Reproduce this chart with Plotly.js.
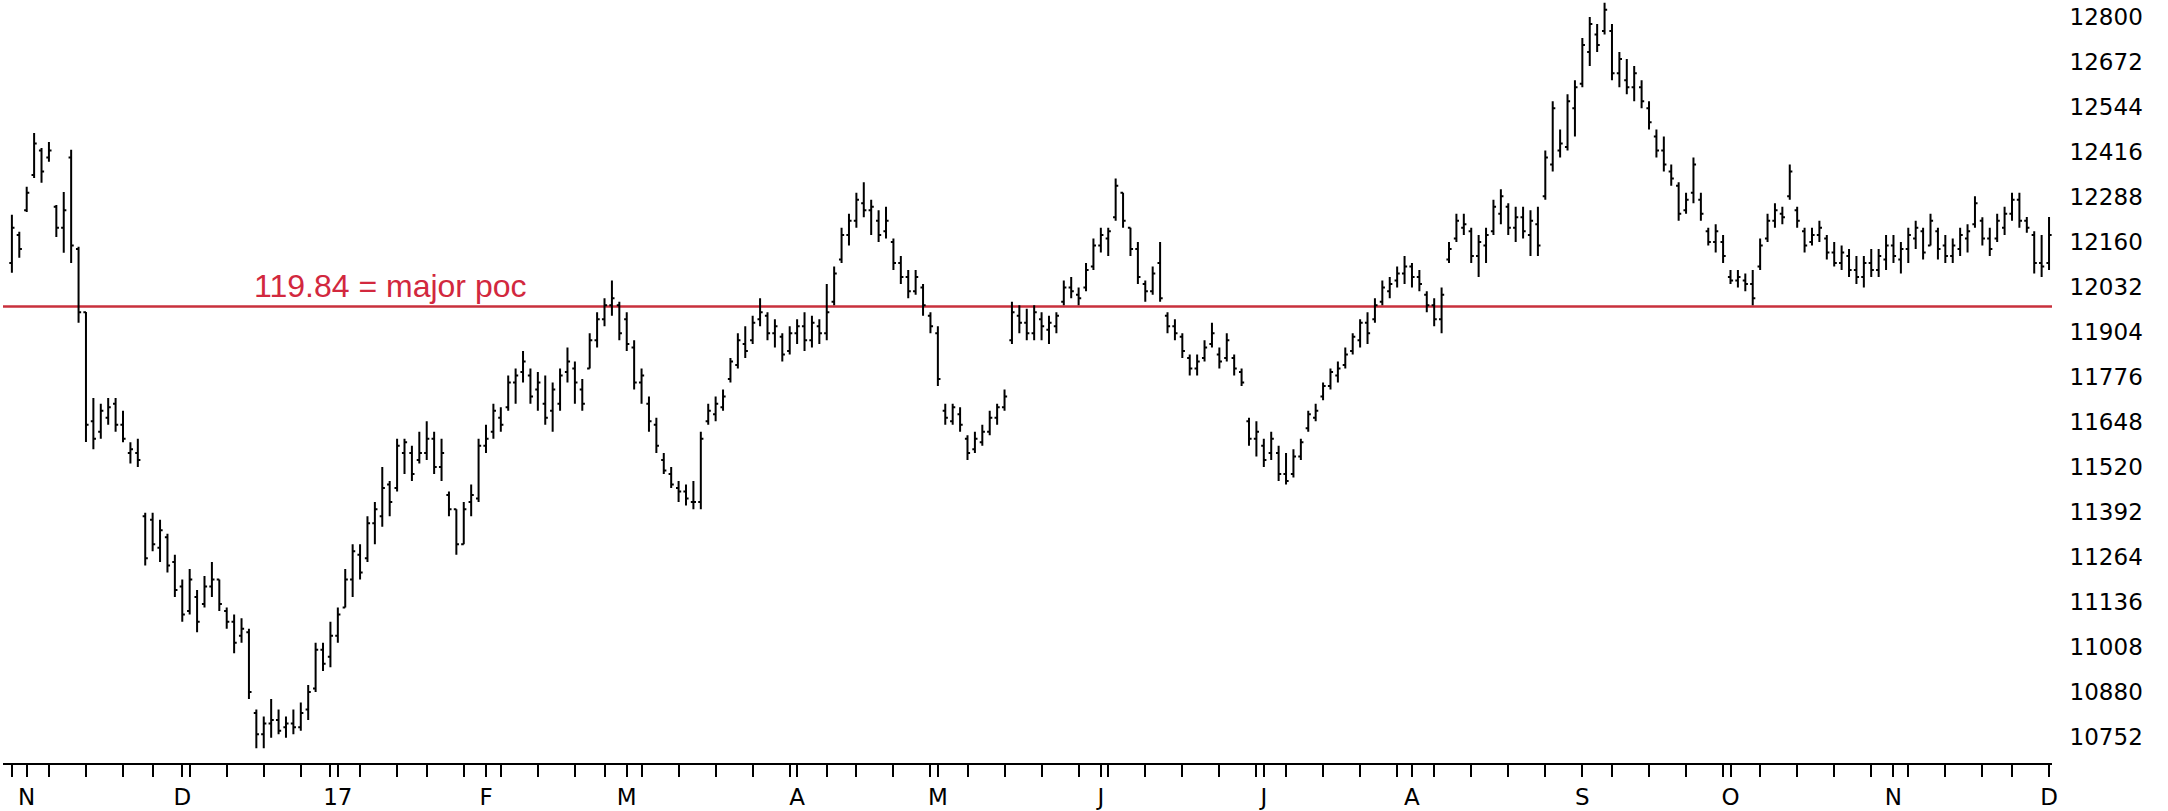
<!DOCTYPE html>
<html><head><meta charset="utf-8">
<script src="https://cdn.plot.ly/plotly-3.0.1.min.js"></script>
<style>html,body{margin:0;padding:0;background:#fff}#chart{width:2168px;height:811px}</style>
</head><body><div id="chart"></div>
<script>
const dates = [
"2016-10-28","2016-10-31",
"2016-11-01","2016-11-02","2016-11-03","2016-11-04","2016-11-07","2016-11-08","2016-11-09","2016-11-10","2016-11-11","2016-11-14","2016-11-15","2016-11-16","2016-11-17","2016-11-18","2016-11-21","2016-11-22","2016-11-23","2016-11-25","2016-11-28","2016-11-29","2016-11-30",
"2016-12-01","2016-12-02","2016-12-05","2016-12-06","2016-12-07","2016-12-08","2016-12-09","2016-12-12","2016-12-13","2016-12-14","2016-12-15","2016-12-16","2016-12-19","2016-12-20","2016-12-21","2016-12-22","2016-12-23","2016-12-27","2016-12-28","2016-12-29","2016-12-30",
"2017-01-03","2017-01-04","2017-01-05","2017-01-06","2017-01-09","2017-01-10","2017-01-11","2017-01-12","2017-01-13","2017-01-17","2017-01-18","2017-01-19","2017-01-20","2017-01-23","2017-01-24","2017-01-25","2017-01-26","2017-01-27","2017-01-30","2017-01-31",
"2017-02-01","2017-02-02","2017-02-03","2017-02-06","2017-02-07","2017-02-08","2017-02-09","2017-02-10","2017-02-13","2017-02-14","2017-02-15","2017-02-16","2017-02-17","2017-02-21","2017-02-22","2017-02-23","2017-02-24","2017-02-27","2017-02-28",
"2017-03-01","2017-03-02","2017-03-03","2017-03-06","2017-03-07","2017-03-08","2017-03-09","2017-03-10","2017-03-13","2017-03-14","2017-03-15","2017-03-16","2017-03-17","2017-03-20","2017-03-21","2017-03-22","2017-03-23","2017-03-24","2017-03-27","2017-03-28","2017-03-29","2017-03-30","2017-03-31",
"2017-04-03","2017-04-04","2017-04-05","2017-04-06","2017-04-07","2017-04-10","2017-04-11","2017-04-12","2017-04-13","2017-04-17","2017-04-18","2017-04-19","2017-04-20","2017-04-21","2017-04-24","2017-04-25","2017-04-26","2017-04-27","2017-04-28",
"2017-05-01","2017-05-02","2017-05-03","2017-05-04","2017-05-05","2017-05-08","2017-05-09","2017-05-10","2017-05-11","2017-05-12","2017-05-15","2017-05-16","2017-05-17","2017-05-18","2017-05-19","2017-05-22","2017-05-23","2017-05-24","2017-05-25","2017-05-26","2017-05-30","2017-05-31",
"2017-06-01","2017-06-02","2017-06-05","2017-06-06","2017-06-07","2017-06-08","2017-06-09","2017-06-12","2017-06-13","2017-06-14","2017-06-15","2017-06-16","2017-06-19","2017-06-20","2017-06-21","2017-06-22","2017-06-23","2017-06-26","2017-06-27","2017-06-28","2017-06-29","2017-06-30",
"2017-07-03","2017-07-05","2017-07-06","2017-07-07","2017-07-10","2017-07-11","2017-07-12","2017-07-13","2017-07-14","2017-07-17","2017-07-18","2017-07-19","2017-07-20","2017-07-21","2017-07-24","2017-07-25","2017-07-26","2017-07-27","2017-07-28","2017-07-31",
"2017-08-01","2017-08-02","2017-08-03","2017-08-04","2017-08-07","2017-08-08","2017-08-09","2017-08-10","2017-08-11","2017-08-14","2017-08-15","2017-08-16","2017-08-17","2017-08-18","2017-08-21","2017-08-22","2017-08-23","2017-08-24","2017-08-25","2017-08-28","2017-08-29","2017-08-30","2017-08-31",
"2017-09-01","2017-09-05","2017-09-06","2017-09-07","2017-09-08","2017-09-11","2017-09-12","2017-09-13","2017-09-14","2017-09-15","2017-09-18","2017-09-19","2017-09-20","2017-09-21","2017-09-22","2017-09-25","2017-09-26","2017-09-27","2017-09-28","2017-09-29",
"2017-10-02","2017-10-03","2017-10-04","2017-10-05","2017-10-06","2017-10-09","2017-10-10","2017-10-11","2017-10-12","2017-10-13","2017-10-16","2017-10-17","2017-10-18","2017-10-19","2017-10-20","2017-10-23","2017-10-24","2017-10-25","2017-10-26","2017-10-27","2017-10-30","2017-10-31",
"2017-11-01","2017-11-02","2017-11-03","2017-11-06","2017-11-07","2017-11-08","2017-11-09","2017-11-10","2017-11-13","2017-11-14","2017-11-15","2017-11-16","2017-11-17","2017-11-20","2017-11-21","2017-11-22","2017-11-24","2017-11-27","2017-11-28","2017-11-29","2017-11-30",
"2017-12-01"
];
const holidays = ["2016-11-24","2016-12-26","2017-01-02","2017-01-16","2017-02-20","2017-04-14","2017-05-29","2017-07-04","2017-09-04","2017-11-23"];

const open = [
12100,12180,12250,12350,12420,12400,12260,12200,12400,12140,
11960,11650,11620,11660,11700,11640,11560,11560,11380,11370,
11290,11320,11250,11180,11110,11150,11130,11180,11200,11110,
11080,11040,11050,10820,10760,10790,10800,10780,10790,10780,
10830,10890,11000,10980,11040,11120,11200,11270,11260,11360,
11380,11470,11460,11560,11560,11540,11560,11600,11520,11440,
11400,11300,11420,11430,11580,11620,11660,11690,11760,11790,
11780,11740,11700,11680,11700,11790,11800,11740,11800,11880,
11940,11980,11980,11940,11860,11760,11700,11640,11540,11500,
11460,11450,11420,11420,11650,11670,11690,11770,11810,11870,
11880,11940,11950,11900,11890,11850,11900,11920,11880,11920,
11900,11990,12110,12180,12220,12270,12250,12220,12190,12160,
12100,12060,12020,12030,11950,11900,11680,11650,11670,11600,
11570,11590,11620,11660,11690,11880,11950,11930,11900,11940,
11910,11920,11990,12030,12010,12030,12090,12150,12170,12230,
12300,12200,12140,12040,12020,12100,11950,11920,11890,11830,
11800,11830,11870,11840,11830,11830,11790,11650,11600,11580,
11560,11560,11500,11500,11550,11630,11660,11720,11750,11780,
11810,11850,11880,11930,11940,11990,12020,12050,12070,12090,
12060,12010,11980,11940,12110,12170,12200,12190,12120,12150,
12190,12240,12260,12200,12230,12180,12210,12290,12380,12420,
12430,12540,12610,12700,12750,12760,12760,12640,12620,12600,
12600,12540,12460,12420,12360,12320,12250,12300,12280,12190,
12160,12160,12060,12050,12050,12040,12090,12170,12220,12240,
12290,12250,12190,12160,12180,12170,12130,12100,12120,12080,
12060,12100,12080,12110,12150,12110,12140,12170,12190,12150,
12190,12150,12120,12140,12170,12210,12220,12170,12170,12200,
12240,12280,12220,12180,12100,12100
];
const high = [
12237,12189,12317,12470,12427,12444,12265,12302,12422,12146,
11961,11716,11700,11716,11716,11680,11590,11600,11390,11390,
11370,11330,11270,11200,11230,11170,11210,11250,11200,11120,
11100,11090,11060,10830,10810,10860,10830,10810,10830,10850,
10900,11020,11020,11080,11120,11230,11300,11300,11380,11420,
11520,11480,11600,11600,11580,11620,11650,11620,11600,11450,
11400,11420,11470,11600,11640,11700,11690,11780,11800,11850,
11800,11790,11780,11760,11800,11860,11820,11770,11900,11960,
12000,12050,11990,11960,11880,11800,11720,11660,11560,11520,
11480,11470,11480,11620,11700,11720,11740,11830,11900,11920,
11950,12000,11960,11940,11900,11920,11940,11960,11950,11940,
12040,12090,12200,12240,12300,12330,12280,12250,12260,12170,
12120,12080,12080,12040,11960,11920,11700,11700,11690,11610,
11620,11640,11680,11700,11740,11990,11980,11970,11980,11960,
11950,11960,12050,12060,12030,12100,12170,12200,12200,12340,
12300,12200,12160,12050,12090,12160,11960,11940,11900,11840,
11840,11880,11930,11860,11900,11840,11800,11660,11650,11600,
11620,11580,11560,11570,11600,11680,11700,11760,11800,11820,
11860,11900,11940,11960,12000,12050,12060,12090,12120,12100,
12080,12020,12000,12030,12160,12240,12240,12200,12180,12200,
12280,12310,12270,12260,12260,12250,12260,12420,12560,12480,
12580,12620,12740,12800,12780,12840,12780,12700,12680,12660,
12620,12560,12480,12460,12380,12330,12300,12400,12300,12200,
12210,12180,12080,12080,12070,12080,12170,12240,12270,12260,
12380,12260,12200,12200,12220,12180,12160,12150,12140,12120,
12120,12140,12140,12180,12180,12160,12200,12220,12200,12240,
12200,12180,12170,12200,12210,12290,12230,12200,12240,12260,
12300,12300,12231,12190,12180,12231
];
const low = [
12072,12115,12245,12342,12328,12388,12174,12129,12100,11930,
11591,11570,11600,11640,11620,11590,11530,11520,11240,11280,
11250,11220,11150,11080,11100,11050,11120,11150,11110,11060,
10990,11020,10860,10720,10720,10750,10760,10750,10760,10770,
10800,10880,10940,10950,11020,11120,11150,11200,11250,11300,
11350,11380,11450,11500,11480,11530,11540,11500,11480,11380,
11270,11300,11380,11420,11560,11600,11620,11680,11700,11760,
11700,11680,11640,11620,11680,11760,11700,11680,11800,11860,
11920,11950,11880,11850,11740,11700,11620,11560,11500,11460,
11420,11410,11400,11400,11640,11650,11680,11760,11800,11830,
11870,11920,11880,11860,11820,11840,11870,11850,11860,11870,
11880,11980,12100,12150,12200,12230,12180,12160,12170,12080,
12040,12000,12010,11950,11900,11750,11640,11640,11620,11540,
11560,11580,11610,11640,11680,11870,11900,11880,11880,11880,
11870,11900,11980,12000,11980,12020,12080,12130,12120,12220,
12200,12120,12040,11990,12010,11990,11900,11880,11830,11780,
11780,11820,11860,11800,11820,11780,11750,11580,11550,11520,
11540,11480,11470,11490,11540,11620,11650,11710,11740,11760,
11800,11840,11860,11870,11930,11980,12000,12030,12040,12030,
12020,11960,11920,11900,12100,12160,12180,12100,12060,12100,
12180,12210,12180,12160,12170,12120,12120,12280,12360,12400,
12420,12460,12600,12660,12700,12750,12620,12600,12580,12560,
12540,12480,12400,12360,12320,12220,12240,12270,12220,12150,
12130,12100,12040,12030,12020,11980,12080,12160,12200,12210,
12280,12200,12130,12150,12160,12110,12090,12080,12060,12040,
12030,12060,12060,12080,12100,12070,12100,12140,12110,12150,
12110,12100,12100,12120,12130,12200,12150,12120,12160,12180,
12220,12200,12186,12070,12060,12080
];
const close = [
12200,12140,12300,12440,12360,12420,12200,12250,12150,11960,
11640,11600,11680,11690,11640,11600,11570,11540,11260,11300,
11340,11240,11170,11100,11200,11080,11180,11200,11130,11080,
11020,11060,10880,10760,10790,10800,10770,10790,10780,10820,
10880,11000,10960,11040,11100,11200,11280,11220,11360,11400,
11460,11420,11580,11590,11500,11560,11600,11520,11560,11400,
11300,11400,11440,11580,11600,11680,11640,11760,11780,11820,
11720,11760,11660,11740,11780,11820,11760,11700,11880,11940,
11980,12000,11900,11870,11760,11780,11650,11580,11510,11470,
11450,11430,11420,11600,11680,11700,11720,11820,11880,11850,
11930,11960,11900,11920,11840,11900,11920,11880,11930,11900,
11960,12070,12180,12220,12280,12250,12260,12180,12220,12100,
12060,12020,12060,11980,11920,11770,11660,11690,11640,11560,
11600,11620,11660,11690,11720,11960,11930,11900,11960,11920,
11930,11950,12030,12020,12000,12080,12150,12180,12190,12320,
12220,12140,12060,12020,12070,12000,11920,11900,11850,11800,
11820,11860,11900,11820,11880,11800,11760,11600,11620,11540,
11600,11500,11480,11550,11590,11670,11680,11750,11790,11800,
11840,11890,11930,11900,11980,12030,12040,12070,12090,12060,
12040,11980,11940,12010,12140,12220,12210,12120,12160,12180,
12260,12290,12200,12230,12190,12220,12150,12400,12540,12440,
12560,12600,12720,12780,12720,12820,12640,12680,12600,12640,
12560,12500,12420,12380,12340,12240,12280,12380,12240,12160,
12190,12120,12050,12060,12040,12000,12150,12220,12250,12230,
12360,12220,12150,12180,12200,12130,12100,12130,12080,12060,
12100,12080,12120,12150,12120,12140,12180,12200,12130,12220,
12140,12120,12150,12180,12190,12270,12170,12140,12220,12240,
12280,12220,12200,12100,12090,12180
];

const monthLabels = ["N","D","17","F","M","A","M","J","J","A","S","O","N","D"];
const yTicks = [10752,10880,11008,11136,11264,11392,11520,11648,11776,11904,12032,12160,12288,12416,12544,12672,12800];
const pocValue = 11976;
const pocLabel = "119.84 = major poc";

// x ticks: last trading day of each week + first trading day of each month
const tickVals = [], tickText = [];
let mi = 0;
dates.forEach((d, i) => {
  const wd = new Date(d + "T00:00:00Z").getUTCDay();
  const isMonthStart = i > 0 && d.slice(5, 7) !== dates[i - 1].slice(5, 7);
  let isWeekEnd;
  if (i === dates.length - 1) isWeekEnd = wd === 5;
  else isWeekEnd = new Date(dates[i + 1] + "T00:00:00Z").getUTCDay() <= wd;
  if (isMonthStart) { tickVals.push(d); tickText.push(monthLabels[mi++] || ""); }
  else if (isWeekEnd) { tickVals.push(d); tickText.push(""); }
});

const trace = {
  type: "ohlc", x: dates, open: open, high: high, low: low, close: close,
  increasing: {line: {color: "#000000", width: 2}},
  decreasing: {line: {color: "#000000", width: 2}},
  tickwidth: 0.35, hoverinfo: "skip", showlegend: false
};

const layout = {
  width: 2168, height: 811,
  margin: {l: 3, r: 116, t: 0, b: 48, pad: 0},
  paper_bgcolor: "#ffffff", plot_bgcolor: "#ffffff",
  showlegend: false,
  xaxis: {
    type: "date",
    range: ["2016-10-26 19:12", "2017-12-01 09:36"],
    rangebreaks: [{bounds: ["sat", "mon"]}, {values: holidays}],
    rangeslider: {visible: false},
    tickmode: "array", tickvals: tickVals, ticktext: tickText,
    ticks: "outside", ticklen: 12, tickwidth: 2, tickcolor: "#000000",
    showline: true, linecolor: "#000000", linewidth: 2,
    showgrid: false, zeroline: false,
    tickfont: {family: "DejaVu Sans", size: 23, color: "#000000"},
    fixedrange: true
  },
  yaxis: {
    side: "right",
    range: [10678, 12848],
    tickmode: "array", tickvals: yTicks, ticktext: yTicks.map(String),
    ticks: "outside", ticklen: 12, tickcolor: "rgba(0,0,0,0)",
    showline: false, showgrid: false, zeroline: false,
    tickfont: {family: "DejaVu Sans", size: 23, color: "#000000"},
    fixedrange: true
  },
  shapes: [{
    type: "line", xref: "paper", x0: 0, x1: 1, yref: "y", y0: pocValue, y1: pocValue,
    line: {color: "#c8303c", width: 2.5}, layer: "below"
  }],
  annotations: [{
    xref: "paper", x: 0.1215, xanchor: "left",
    yref: "y", y: 12036, yanchor: "middle",
    text: pocLabel, showarrow: false,
    font: {family: "Liberation Sans, Arial, sans-serif", size: 32, color: "#d2283e"}
  }]
};

Plotly.newPlot("chart", [trace], layout, {staticPlot: true, displayModeBar: false});
</script>
</body></html>
